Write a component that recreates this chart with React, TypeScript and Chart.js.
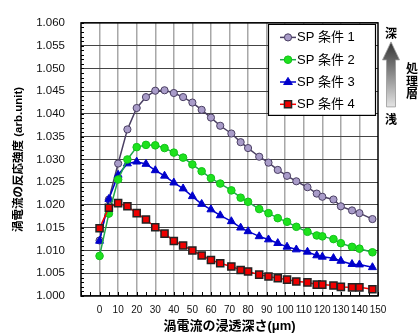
import React, { useEffect, useRef } from "react";
import { Chart, registerables } from "chart.js";

Chart.register(...registerables);

// ---- data ----
const depths = [0, 5, 10, 15, 20, 25, 30, 35, 40, 45, 50, 55, 60, 65, 71, 76, 80, 86, 91, 96, 101, 106, 112, 117, 120, 126, 130, 136, 140, 147];
const sp1 = [1.0122, 1.0212, 1.0291, 1.0366, 1.0413, 1.0437, 1.0451, 1.0452, 1.0446, 1.0437, 1.0425, 1.0409, 1.0392, 1.0374, 1.0357, 1.0338, 1.0325, 1.0306, 1.0293, 1.0277, 1.0264, 1.0252, 1.0239, 1.0225, 1.0218, 1.0212, 1.0197, 1.0188, 1.0182, 1.0169];
const sp2 = [1.0088, 1.0181, 1.0256, 1.03, 1.0327, 1.0332, 1.0331, 1.0325, 1.0315, 1.0304, 1.0289, 1.0274, 1.0259, 1.0247, 1.0232, 1.0216, 1.0207, 1.0191, 1.0182, 1.0171, 1.0163, 1.0152, 1.0141, 1.0133, 1.0131, 1.0125, 1.0116, 1.0108, 1.0104, 1.0096];
const sp3 = [1.0121, 1.0213, 1.0266, 1.0291, 1.0295, 1.029, 1.0276, 1.0264, 1.0249, 1.0236, 1.0219, 1.0202, 1.019, 1.0177, 1.0164, 1.015, 1.0142, 1.0131, 1.0124, 1.0116, 1.0108, 1.0102, 1.0097, 1.0089, 1.0086, 1.0083, 1.0077, 1.007, 1.0069, 1.0063];
const sp4 = [1.0149, 1.0194, 1.0204, 1.0197, 1.0182, 1.0168, 1.0151, 1.0137, 1.0121, 1.0111, 1.01, 1.0089, 1.0079, 1.0072, 1.0065, 1.0057, 1.0054, 1.0047, 1.0043, 1.0039, 1.0036, 1.0032, 1.003, 1.0025, 1.0025, 1.0023, 1.002, 1.0019, 1.0019, 1.0015];
const seriesLabels = ["SP 条件 1", "SP 条件 2", "SP 条件 3", "SP 条件 4"];
const xTitle = "渦電流の浸透深さ(μm)";
const yTitle = "渦電流の反応強度 (arb.unit)";
const sideTop = "深";
const sideBottom = "浅";
const sideLabel = ["処", "理", "層"];

const LATIN = "'Liberation Sans', Arial, 'Noto Sans CJK JP', sans-serif";
const CJK = "'Liberation Sans', 'Noto Sans CJK JP', sans-serif";

function drawMarker(ctx: CanvasRenderingContext2D, style: string, x: number, y: number, r: number, fill: string, stroke: string, bw: number) {
  ctx.save();
  ctx.beginPath();
  if (style === "circle") {
    ctx.arc(x, y, r, 0, Math.PI * 2);
  } else if (style === "triangle") {
    ctx.moveTo(x, y - r);
    ctx.lineTo(x + r * 0.866 * 1.1, y + r * 0.5 * 1.1);
    ctx.lineTo(x - r * 0.866 * 1.1, y + r * 0.5 * 1.1);
    ctx.closePath();
  } else {
    const s = r * Math.SQRT1_2;
    ctx.rect(x - s, y - s, 2 * s, 2 * s);
  }
  ctx.fillStyle = fill;
  ctx.fill();
  ctx.lineWidth = bw;
  ctx.strokeStyle = stroke;
  ctx.stroke();
  ctx.restore();
}

const framePlugin = {
  id: "frameTicks",
  beforeDatasetsDraw(chart: any) {
    const { ctx, chartArea: ca, scales } = chart;
    const xs = scales.x;
    const ys = scales.y;
    ctx.save();
    ctx.strokeStyle = "#000";
    ctx.lineWidth = 1;
    for (let i = 0; Math.round(xs.min + i * 5) <= xs.max; i++) {
      const v = xs.min + i * 5;
      const px = Math.round(xs.getPixelForValue(v)) + 0.5;
      ctx.beginPath();
      ctx.moveTo(px, ca.bottom);
      ctx.lineTo(px, ca.bottom - 4);
      ctx.stroke();
    }
    const n = Math.round((ys.max - ys.min) / 0.001);
    for (let i = 0; i <= n; i++) {
      const v = ys.min + i * 0.001;
      const py = Math.round(ys.getPixelForValue(v)) + 0.5;
      ctx.beginPath();
      ctx.moveTo(ca.left, py);
      ctx.lineTo(ca.left + 3, py);
      ctx.stroke();
    }
    ctx.lineWidth = 1.5;
    ctx.strokeRect(ca.left, ca.top, ca.right - ca.left, ca.bottom - ca.top);
    ctx.restore();
  },
  afterDraw(chart: any) {
    const { ctx, chartArea: ca } = chart;
    const ds = chart.data.datasets;
    const bx = ca.right - 110;
    const by = ca.top + 1;
    const bw = 107;
    const bh = 91;
    ctx.save();
    ctx.fillStyle = "#fff";
    ctx.fillRect(bx, by, bw, bh);
    ctx.strokeStyle = "#000";
    ctx.lineWidth = 1.2;
    ctx.strokeRect(bx + 0.5, by + 0.5, bw, bh);
    ctx.font = "13px " + CJK;
    ctx.textBaseline = "middle";
    ctx.textAlign = "left";
    ds.forEach((d: any, i: number) => {
      const cy = by + 13.5 + i * 22.3;
      ctx.strokeStyle = d.borderColor;
      ctx.lineWidth = 1.5;
      ctx.beginPath();
      ctx.moveTo(bx + 12, cy);
      ctx.lineTo(bx + 28, cy);
      ctx.stroke();
      drawMarker(ctx, d.pointStyle, bx + 20, cy, d.pointRadius, d.pointBackgroundColor, d.pointBorderColor, d.pointBorderWidth);
      ctx.fillStyle = "#000";
      ctx.fillText(d.label, bx + 29, cy + 0.5);
    });
    const cx = ca.right + 13;
    ctx.font = "bold 12px 'Noto Sans CJK JP', sans-serif";
    ctx.textAlign = "center";
    ctx.fillStyle = "#000";
    ctx.fillText(sideTop, cx, ca.top + 11);
    ctx.fillText(sideBottom, cx, ca.top + 97);
    sideLabel.forEach((c, i) => ctx.fillText(c, ca.right + 34, ca.top + 46 + i * 12.3));
    const tip = ca.top + 19;
    const headBase = ca.top + 37;
    const bottom = ca.top + 84;
    const g = ctx.createLinearGradient(0, tip, 0, bottom);
    g.addColorStop(0, "#333");
    g.addColorStop(1, "#e4e4e4");
    ctx.beginPath();
    ctx.moveTo(cx, tip);
    ctx.lineTo(cx + 8.5, headBase);
    ctx.lineTo(cx + 4.5, headBase);
    ctx.lineTo(cx + 4.5, bottom);
    ctx.lineTo(cx - 4.5, bottom);
    ctx.lineTo(cx - 4.5, headBase);
    ctx.lineTo(cx - 8.5, headBase);
    ctx.closePath();
    ctx.fillStyle = g;
    ctx.fill();
    ctx.strokeStyle = "#999";
    ctx.lineWidth = 0.8;
    ctx.stroke();
    ctx.restore();
  },
};

export default function App() {
  const ref = useRef<HTMLCanvasElement | null>(null);
  useEffect(() => {
    if (!ref.current) return;
    const mk = (vals: number[]) => depths.map((x, i) => ({ x, y: vals[i] }));
    const chart = new Chart(ref.current, {
      type: "line",
      data: {
        datasets: [
          {
            label: seriesLabels[0],
            data: mk(sp1),
            borderColor: "#4a3f62",
            borderWidth: 1.5,
            pointStyle: "circle",
            pointRadius: 3.6,
            pointBackgroundColor: "#a99cc9",
            pointBorderColor: "#4a3f62",
            pointBorderWidth: 1,
            order: 4,
          },
          {
            label: seriesLabels[1],
            data: mk(sp2),
            borderColor: "#1fa84a",
            borderWidth: 1.5,
            pointStyle: "circle",
            pointRadius: 3.8,
            pointBackgroundColor: "#1de21d",
            pointBorderColor: "#12c21a",
            pointBorderWidth: 1,
            order: 2,
          },
          {
            label: seriesLabels[2],
            data: mk(sp3),
            borderColor: "#0000cc",
            borderWidth: 1.5,
            pointStyle: "triangle",
            pointRadius: 4.6,
            pointBackgroundColor: "#0000cc",
            pointBorderColor: "#0000cc",
            pointBorderWidth: 1,
            order: 3,
          },
          {
            label: seriesLabels[3],
            data: mk(sp4),
            borderColor: "#ff0000",
            borderWidth: 1.5,
            pointStyle: "rect",
            pointRadius: 5,
            pointBackgroundColor: "#ee0000",
            pointBorderColor: "#222",
            pointBorderWidth: 1.5,
            order: 1,
          },
        ] as any,
      },
      options: {
        animation: false,
        responsive: false,
        layout: { padding: { top: 16, right: 41, left: 0, bottom: 0 } },
        plugins: { legend: { display: false }, tooltip: { enabled: false } },
        scales: {
          x: {
            type: "linear",
            min: -10,
            max: 150,
            ticks: {
              stepSize: 10,
              padding: 8,
              autoSkip: false,
              maxRotation: 0,
              minRotation: 0,
              color: "#111",
              font: { family: LATIN, size: 10 },
              callback: (v: any) => (v < 0 ? "" : String(v)),
            },
            grid: {
              drawTicks: false,
              color: (c: any) => (c.tick && (c.tick.value <= -10 || c.tick.value >= 150) ? "rgba(0,0,0,0)" : "#a8a8a8"),
              lineWidth: 1.5,
            },
            border: { display: false },
            title: {
              display: true,
              text: xTitle,
              color: "#000",
              font: { family: CJK, size: 13, weight: "bold", lineHeight: 1 },
              padding: { top: 0, bottom: 0 },
            },
            afterFit: (s: any) => {
              s.height = 37;
            },
          },
          y: {
            type: "linear",
            min: 1.0,
            max: 1.06,
            ticks: {
              stepSize: 0.005,
              padding: 16,
              color: "#111",
              font: { family: LATIN, size: 11.5 },
              callback: (v: any) => Number(v).toFixed(3),
            },
            grid: {
              drawTicks: false,
              color: "#444",
              lineWidth: 1.1,
            },
            border: { display: false },
            title: {
              display: true,
              text: yTitle,
              color: "#000",
              font: { family: CJK, size: 11.5, weight: "bold", lineHeight: 1.2 },
              padding: { top: 12, bottom: 0 },
            },
            afterFit: (s: any) => {
              s.width = 81;
            },
          },
        },
      } as any,
      plugins: [framePlugin],
    });
    return () => chart.destroy();
  }, []);
  return (
    <div style={{ position: "fixed", left: 0, top: 0, width: 419, height: 333, background: "#fff" }}>
      <canvas ref={ref} width={419} height={333} style={{ display: "block" }} />
    </div>
  );
}
